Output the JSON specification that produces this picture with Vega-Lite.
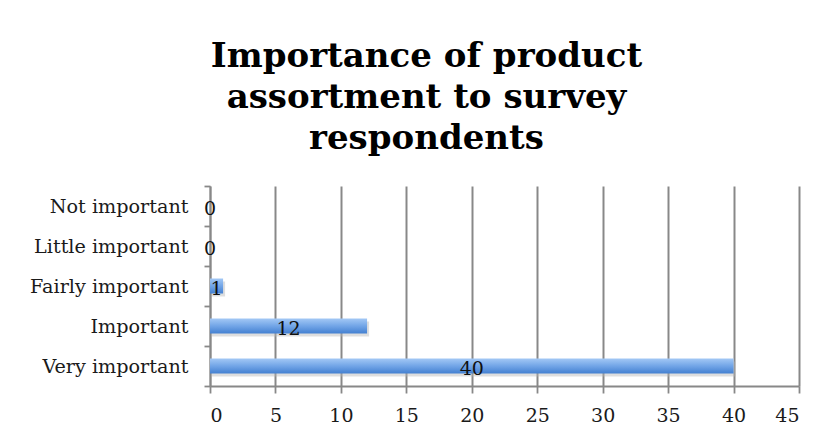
{
  "$schema": "https://vega.github.io/schema/vega-lite/v6.json",
  "autosize": {"type": "none"},
  "width": 589,
  "height": 200,
  "padding": {"left": 210, "top": 186, "right": 31, "bottom": 41},
  "background": "white",
  "title": {
    "text": ["Importance of product", "assortment to survey", "respondents"],
    "font": "DejaVu Serif",
    "fontSize": 34,
    "fontWeight": "bold",
    "lineHeight": 41,
    "color": "#000000",
    "anchor": "middle",
    "frame": "group",
    "dx": -78,
    "offset": 21
  },
  "data": {
    "values": [
      {"importance": "Not important", "respondents": 0},
      {"importance": "Little important", "respondents": 0},
      {"importance": "Fairly important", "respondents": 1},
      {"importance": "Important", "respondents": 12},
      {"importance": "Very important", "respondents": 40}
    ]
  },
  "encoding": {
    "y": {
      "field": "importance",
      "type": "nominal",
      "sort": ["Not important", "Little important", "Fairly important", "Important", "Very important"],
      "scale": {"paddingInner": 0, "paddingOuter": 0},
      "axis": {
        "title": null,
        "tickBand": "extent",
        "tickSize": 6,
        "labelPadding": 16,
        "labelFont": "DejaVu Serif",
        "labelFontSize": 19.2,
        "labelColor": "#1a1a1a",
        "domainColor": "#888888",
        "domainWidth": 1.8,
        "tickColor": "#888888",
        "tickWidth": 1.8,
        "grid": false
      }
    }
  },
  "layer": [
    {
      "mark": {"type": "bar", "size": 15, "color": "#b5b5b5", "opacity": 0.45, "yOffset": 3, "xOffset": 2},
      "encoding": {
        "x": {"field": "respondents", "type": "quantitative", "scale": {"domain": [0, 45], "nice": false}, "axis": null}
      }
    },
    {
      "mark": {
        "type": "bar",
        "size": 15,
        "color": {
          "gradient": "linear",
          "x1": 0, "y1": 0, "x2": 0, "y2": 1,
          "stops": [
            {"offset": 0, "color": "#a3c8f5"},
            {"offset": 0.5, "color": "#72a5e7"},
            {"offset": 1, "color": "#4380d1"}
          ]
        }
      },
      "encoding": {
        "x": {
          "field": "respondents",
          "type": "quantitative",
          "scale": {"domain": [0, 45], "nice": false},
          "axis": {
            "title": null,
            "values": [0, 5, 10, 15, 20, 25, 30, 35, 40, 45],
            "tickSize": 7,
            "labelPadding": 13,
            "labelFont": "DejaVu Serif",
            "labelFontSize": 19,
            "labelColor": "#1a1a1a",
            "domainColor": "#888888",
            "domainWidth": 1.8,
            "tickColor": "#888888",
            "tickWidth": 1.8,
            "grid": true,
            "gridColor": "#888888",
            "gridWidth": 2
          }
        }
      }
    },
    {
      "mark": {
        "type": "text",
        "font": "DejaVu Serif",
        "fontSize": 19,
        "color": "#111111",
        "align": "center",
        "baseline": "alphabetic",
        "dy": 8.5
      },
      "encoding": {
        "x": {
          "field": "respondents",
          "type": "quantitative",
          "scale": {"domain": [0, 90], "nice": false},
          "axis": null
        },
        "text": {"field": "respondents", "type": "quantitative"}
      }
    }
  ],
  "resolve": {"scale": {"x": "independent"}},
  "config": {
    "view": {"stroke": null}
  }
}
